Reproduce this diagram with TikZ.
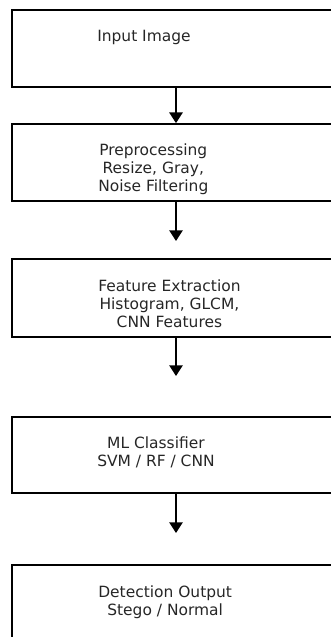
\documentclass[tikz,border=0pt]{standalone}
\usepackage{fontspec}
\setmainfont{DejaVu Sans}
\usetikzlibrary{arrows.meta}
\begin{document}
\begin{tikzpicture}[x=0.75pt,y=-0.75pt,
  stage/.style={draw=black, line width=1.3pt, rectangle, minimum width=328*0.75pt, inner sep=0pt},
  lbl/.style={anchor=west, align=center, font=\fontsize{11.6pt}{13.6pt}\selectfont, text=black!85, inner sep=0pt},
  flow/.style={draw=black, line width=1.1pt, -{Triangle[width=10pt,length=8pt]}}]
\useasboundingbox (0,0) rectangle (331,637);
\clip (0,0) rectangle (331,637);
\node[stage, minimum height=77*0.75pt] (b1) at (176,48.5) {};
\node[stage, minimum height=77*0.75pt] (b2) at (176,162.5) {};
\node[stage, minimum height=78*0.75pt] (b3) at (176,298) {};
\node[stage, minimum height=76*0.75pt] (b4) at (176,455) {};
\node[stage, minimum height=77*0.75pt] (b5) at (176,603.5) {};
\node[lbl] (l1) at (97,37) {Input Image};
\node[lbl] (l2) at (98,169) {Preprocessing\\Resize, Gray,\\Noise Filtering};
\node[lbl] (l3) at (98,304) {Feature Extraction\\Histogram, GLCM,\\CNN Features};
\node[lbl] (l4) at (97,452) {ML Classifier\\SVM / RF / CNN};
\node[lbl] (l5) at (98,602) {Detection Output\\Stego / Normal};
\coordinate (e2) at (176,241);
\coordinate (e3) at (176,376);
\coordinate (e4) at (176,533);
\draw[flow] (b1.south) -- (b2.north);
\draw[flow] (b2.south) -- (e2);
\draw[flow] (b3.south) -- (e3);
\draw[flow] (b4.south) -- (e4);
\end{tikzpicture}
\end{document}
